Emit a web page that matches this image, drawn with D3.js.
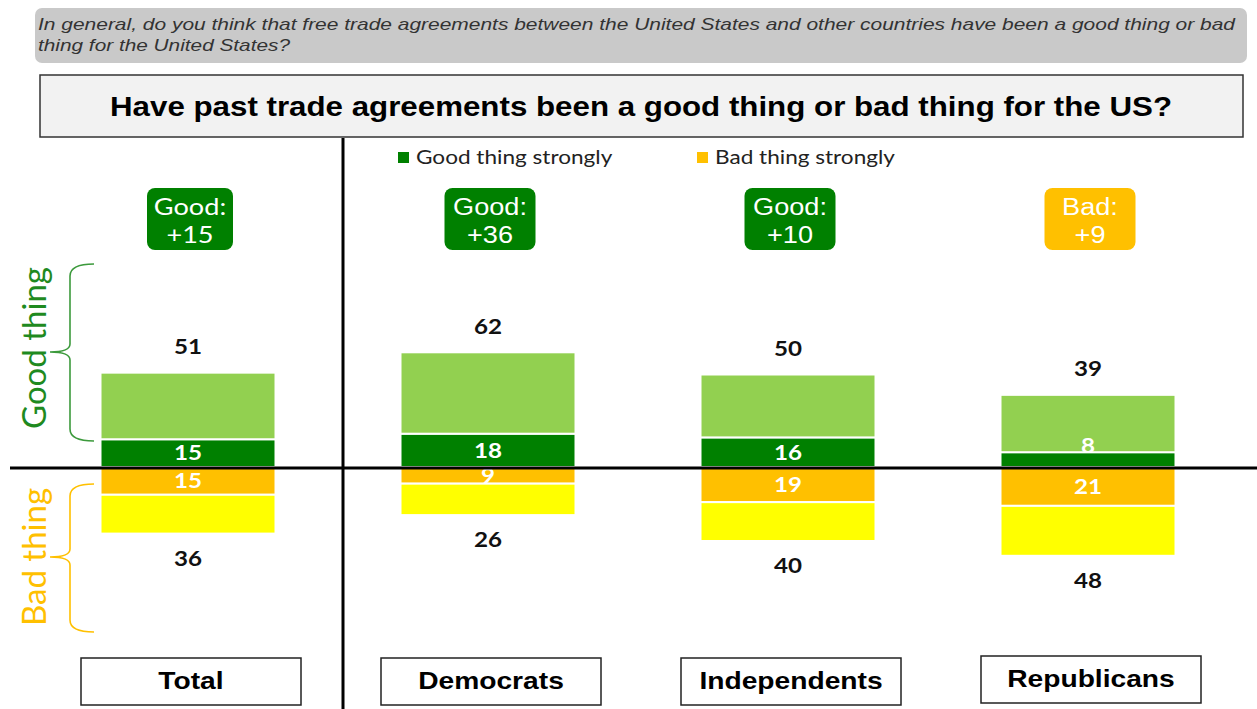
<!DOCTYPE html>
<html>
<head>
<meta charset="utf-8">
<script src="https://cdn.jsdelivr.net/npm/d3@7"></script>
<style>
  body { margin: 0; background: #fff; }
  svg { display: block; }
</style>
</head>
<body>
<script>
// data
const categories = ["Total", "Democrats", "Independents", "Republicans"];
const goodAll = [51, 62, 50, 39];
const goodStrong = [15, 18, 16, 8];
const badAll = [36, 26, 40, 48];
const badStrong = [15, 9, 19, 21];

const question = ["In general, do you think that free trade agreements between the United States and other countries have been a good thing or bad",
                  "thing for the United States?"];
const title = "Have past trade agreements been a good thing or bad thing for the US?";
const legendLabels = ["Good thing strongly", "Bad thing strongly"];

const W = 1257, H = 709;
const cDark = "#008000", cLight = "#92d050", cOrange = "#ffc000", cYellow = "#ffff00";
const arial = "Liberation Sans, Arial, sans-serif";
const calib = "Lato, sans-serif";

const svg = d3.select("body").append("svg")
    .attr("width", W)
    .attr("height", H);

// the source picture is a bit wider than its fonts, so widen the text
function stretch(sel, k) {
    sel.each(function() {
        var l = this.getComputedTextLength();
        d3.select(this).attr("textLength", l * k).attr("lengthAdjust", "spacingAndGlyphs");
    });
}

var x = d3.scaleBand()
    .domain(categories)
    .range([38, 1238]);

var y = d3.scaleLinear()
    .domain([-100, 100])
    .range([467 + 185, 467 - 185]);

const barW = 175;
const cx = d => x(d) + x.bandwidth() / 2;

// question box
svg.append("rect")
    .attr("x", 35).attr("y", 8).attr("width", 1212).attr("height", 55)
    .attr("rx", 7).attr("fill", "#c9c9c9");
svg.selectAll("text.q").data(question).join("text")
    .attr("class", "q")
    .attr("x", 38).attr("y", (d, i) => 30 + i * 21)
    .attr("font-family", arial)
    .attr("font-style", "italic")
    .attr("font-size", 16.5)
    .attr("fill", "#333")
    .text(d => d)
    .attr("textLength", (d, i) => i == 0 ? 1197 : 252)
    .attr("lengthAdjust", "spacingAndGlyphs");

// title box
svg.append("rect")
    .attr("x", 40).attr("y", 75).attr("width", 1203).attr("height", 62)
    .attr("fill", "#f2f2f2").attr("stroke", "#333").attr("stroke-width", 1.5);
svg.append("text")
    .attr("x", 641).attr("y", 116)
    .attr("text-anchor", "middle")
    .attr("font-family", arial)
    .attr("font-weight", "bold")
    .attr("font-size", 27.5)
    .attr("fill", "#000")
    .text(title)
    .attr("textLength", 1062)
    .attr("lengthAdjust", "spacingAndGlyphs");

// legend
const legendX = [398, 697];
const legendCol = [cDark, cOrange];
legendLabels.forEach(function(l, i) {
    svg.append("rect")
        .attr("x", legendX[i]).attr("y", 152).attr("width", 11).attr("height", 11)
        .attr("fill", legendCol[i]);
    svg.append("text")
        .attr("x", legendX[i] + 18).attr("y", 164)
        .attr("font-family", calib)
        .attr("font-size", 18.5)
        .attr("fill", "#222")
        .text(l)
        .call(stretch, 1.22);
});

// net badges
categories.forEach(function(c, i) {
    var net = goodAll[i] - badAll[i];
    var isGood = net >= 0;
    var bw = i == 0 ? 86 : 91;
    var g = svg.append("g").attr("transform", "translate(" + (cx(c) + 2) + ",188)");
    g.append("rect")
        .attr("x", -bw / 2).attr("y", 0).attr("width", bw).attr("height", 62)
        .attr("rx", 8).attr("fill", isGood ? cDark : cOrange);
    var ff = i == 0 ? calib : arial;
    g.append("text")
        .attr("x", 0).attr("y", 27)
        .attr("text-anchor", "middle")
        .attr("font-family", ff).attr("font-size", 23)
        .attr("fill", "#fff")
        .text(isGood ? "Good:" : "Bad:")
        .call(stretch, 1.18);
    g.append("text")
        .attr("x", 0).attr("y", 55)
        .attr("text-anchor", "middle")
        .attr("font-family", ff).attr("font-size", 23)
        .attr("fill", "#fff")
        .text("+" + Math.abs(net))
        .call(stretch, 1.18);
});

// bars
categories.forEach(function(c, i) {
    var x0 = cx(c) - barW / 2;
    var segs = [
        {a: 0, b: goodStrong[i], col: cDark},
        {a: goodStrong[i], b: goodAll[i], col: cLight},
        {a: 0, b: -badStrong[i], col: cOrange},
        {a: -badStrong[i], b: -badAll[i], col: cYellow}
    ];
    svg.selectAll(null).data(segs).join("rect")
        .attr("x", x0).attr("width", barW)
        .attr("y", d => Math.min(y(d.a), y(d.b)))
        .attr("height", d => Math.abs(y(d.a) - y(d.b)))
        .attr("fill", d => d.col)
        .attr("stroke", "#fff").attr("stroke-width", 2);

    // inside labels
    var gsH = y(0) - y(goodStrong[i]);
    var gsY = gsH < 24 ? y(0) - 21 : (y(0) + y(goodStrong[i])) / 2;
    var bsY = (y(0) + y(-badStrong[i])) / 2;
    [[goodStrong[i], gsY], [badStrong[i], bsY]].forEach(function(p) {
        svg.append("text")
            .attr("x", cx(c)).attr("y", p[1])
            .attr("dy", "0.35em")
            .attr("text-anchor", "middle")
            .attr("font-family", calib)
            .attr("font-weight", "bold")
            .attr("font-size", 21)
            .attr("fill", "#fff")
            .text(p[0])
            .call(stretch, 1.15);
    });
    // totals
    svg.append("text")
        .attr("x", cx(c)).attr("y", y(goodAll[i]) - 26)
        .attr("dy", "0.35em")
        .attr("text-anchor", "middle")
        .attr("font-family", calib)
        .attr("font-weight", "bold")
        .attr("font-size", 21)
        .attr("fill", "#111")
        .text(goodAll[i])
        .call(stretch, 1.15);
    svg.append("text")
        .attr("x", cx(c)).attr("y", y(-badAll[i]) + 25)
        .attr("dy", "0.35em")
        .attr("text-anchor", "middle")
        .attr("font-family", calib)
        .attr("font-weight", "bold")
        .attr("font-size", 21)
        .attr("fill", "#111")
        .text(badAll[i])
        .call(stretch, 1.15);

    // category boxes
    var by = i == 3 ? 656 : 658;
    svg.append("rect")
        .attr("x", cx(c) - 110 + 3).attr("y", by)
        .attr("width", 220).attr("height", 47)
        .attr("fill", "#fff").attr("stroke", "#222").attr("stroke-width", 1.5);
    svg.append("text")
        .attr("x", cx(c) + 3).attr("y", by + 22.5)
        .attr("dy", "0.35em")
        .attr("text-anchor", "middle")
        .attr("font-family", arial)
        .attr("font-weight", "bold")
        .attr("font-size", 24.5)
        .attr("fill", "#000")
        .text(c)
        .call(stretch, 1.15);
});

// axis lines
svg.append("line")
    .attr("x1", 10).attr("x2", W).attr("y1", 468).attr("y2", 468)
    .attr("stroke", "#000").attr("stroke-width", 3);
svg.append("line")
    .attr("x1", 343).attr("x2", 343).attr("y1", 138).attr("y2", H)
    .attr("stroke", "#000").attr("stroke-width", 3);

// braces
function brace(top, bot, mid, col) {
    var xr = 94, xv = 70, xp = 50;
    var p = "M" + xr + "," + top +
        " Q" + xv + "," + top + " " + xv + "," + (top + 12) +
        " L" + xv + "," + (mid - 8) +
        " Q" + xv + "," + mid + " " + xp + "," + mid +
        " Q" + xv + "," + mid + " " + xv + "," + (mid + 8) +
        " L" + xv + "," + (bot - 12) +
        " Q" + xv + "," + bot + " " + xr + "," + bot;
    svg.append("path").attr("d", p)
        .attr("fill", "none").attr("stroke", col).attr("stroke-width", 1.6);
}
brace(264, 441, 352, "#3c9a3c");
brace(484, 632, 557, "#ffc000");

svg.append("text")
    .attr("transform", "translate(46,348) rotate(-90)")
    .attr("text-anchor", "middle")
    .attr("font-family", calib)
    .attr("font-size", 33)
    .attr("fill", "#1f8a1f")
    .text("Good thing");
svg.append("text")
    .attr("transform", "translate(46,557) rotate(-90)")
    .attr("text-anchor", "middle")
    .attr("font-family", calib)
    .attr("font-size", 33)
    .attr("fill", "#ffc000")
    .text("Bad thing");
</script>
</body>
</html>
